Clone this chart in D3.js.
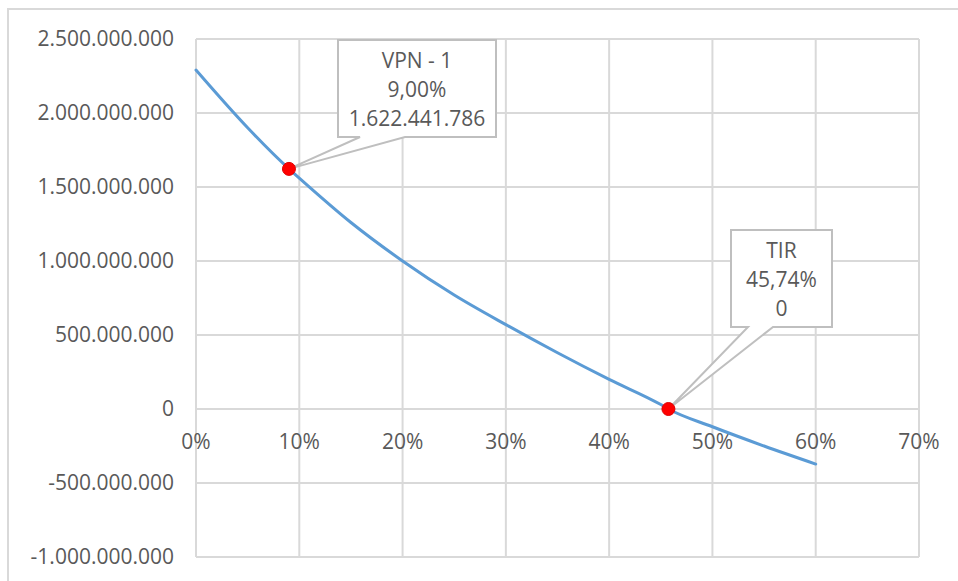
<!DOCTYPE html>
<html>
<head>
<meta charset="utf-8">
<script src="https://cdn.jsdelivr.net/npm/d3@7"></script>
<style>
  body { margin: 0; background: #fff; }
  svg { display: block; font-family: "Open Sans", sans-serif; }
  .grid line { stroke: #d9d9d9; stroke-width: 2; }
  .lbl { fill: #595959; font-size: 21px; }
</style>
</head>
<body>
<svg id="chart" width="958" height="581"></svg>
<script>
// VPN curve (rate in %, value in pesos)
const rates = [0, 5, 9, 10, 15, 20, 25, 30, 35, 40, 45, 45.74, 50, 55, 60];
const vpn = [2290000000, 1900000000, 1622441786, 1560000000, 1260000000, 1000000000,
  770000000, 570000000, 380000000, 200000000, 30000000, 0, -120000000, -250000000, -372000000];

const xTicks = [0, 10, 20, 30, 40, 50, 60, 70];
const yTicks = [-1000000000, -500000000, 0, 500000000, 1000000000, 1500000000, 2000000000, 2500000000];

// highlighted points
const marks = [
  { rate: 9, value: 1622441786, lines: ["VPN - 1", "9,00%", "1.622.441.786"] },
  { rate: 45.74, value: 0, lines: ["TIR", "45,74%", "0"] }
];

const svg = d3.select("#chart");
const plot = { left: 196, right: 919, top: 39, bottom: 557 };

const x = d3.scaleLinear().domain([0, 70]).range([plot.left, plot.right]);
const y = d3.scaleLinear().domain([-1000000000, 2500000000]).range([plot.bottom, plot.top]);

const fmtNum = d3.formatLocale({ decimal: ",", thousands: ".", grouping: [3], currency: ["$", ""], minus: "-" }).format(",.0f");

// chart area border (only top/left visible)
svg.append("rect")
  .attr("x", 8).attr("y", 9)
  .attr("width", 1000).attr("height", 700)
  .attr("fill", "none")
  .attr("stroke", "#d9d9d9")
  .attr("stroke-width", 2);

const grid = svg.append("g").attr("class", "grid");
grid.selectAll("line.h").data(yTicks).join("line")
  .attr("class", "h")
  .attr("x1", plot.left).attr("x2", plot.right)
  .attr("y1", d => y(d)).attr("y2", d => y(d));
grid.selectAll("line.v").data(xTicks).join("line")
  .attr("class", "v")
  .attr("y1", plot.top).attr("y2", plot.bottom)
  .attr("x1", d => x(d)).attr("x2", d => x(d));

// y labels
svg.selectAll("text.ylab").data(yTicks).join("text")
  .attr("class", "lbl ylab")
  .attr("x", 174)
  .attr("y", d => y(d))
  .attr("dy", "0.35em")
  .attr("text-anchor", "end")
  .text(d => d === 0 ? "0" : fmtNum(d));

// x labels sit under the zero line
svg.selectAll("text.xlab").data(xTicks).join("text")
  .attr("class", "lbl xlab")
  .attr("x", d => x(d))
  .attr("y", y(0) + 40)
  .attr("text-anchor", "middle")
  .text(d => d + "%");

// curve
const line = d3.line()
  .x((d, i) => x(rates[i]))
  .y(d => y(d))
  .curve(d3.curveMonotoneX);
svg.append("path").datum(vpn)
  .attr("d", line)
  .attr("fill", "none")
  .attr("stroke", "#5b9bd5")
  .attr("stroke-width", 3)
  .attr("stroke-linecap", "round");

// callouts
const boxes = [
  { x0: 338, y0: 40, w: 158, h: 97, p0: 360, p1: 405 },
  { x0: 731, y0: 230, w: 101, h: 97, p0: 748, p1: 773 }
];

marks.forEach((m, i) => {
  const b = boxes[i];
  const px = x(m.rate), py = y(m.value);
  const g = svg.append("g");
  const path = d3.path();
  path.moveTo(b.x0, b.y0);
  path.lineTo(b.x0 + b.w, b.y0);
  path.lineTo(b.x0 + b.w, b.y0 + b.h);
  path.lineTo(b.p1, b.y0 + b.h);
  path.lineTo(px, py);
  path.lineTo(b.p0, b.y0 + b.h);
  path.lineTo(b.x0, b.y0 + b.h);
  path.closePath();
  g.append("path")
    .attr("d", path.toString())
    .attr("fill", "#fff")
    .attr("stroke", "#bfbfbf")
    .attr("stroke-width", 2);
  m.lines.forEach((t, j) => {
    g.append("text")
      .attr("class", "lbl")
      .attr("x", b.x0 + b.w / 2)
      .attr("y", b.y0 + 21 + j * 29)
      .attr("dy", "0.35em")
      .attr("text-anchor", "middle")
      .text(t);
  });
});

// markers
svg.selectAll("circle.mk").data(marks).join("circle")
  .attr("class", "mk")
  .attr("cx", d => x(d.rate))
  .attr("cy", d => y(d.value))
  .attr("r", 6.5)
  .attr("fill", "#ff0000")
  .attr("stroke", "#e00000")
  .attr("stroke-width", 1);
</script>
</body>
</html>
